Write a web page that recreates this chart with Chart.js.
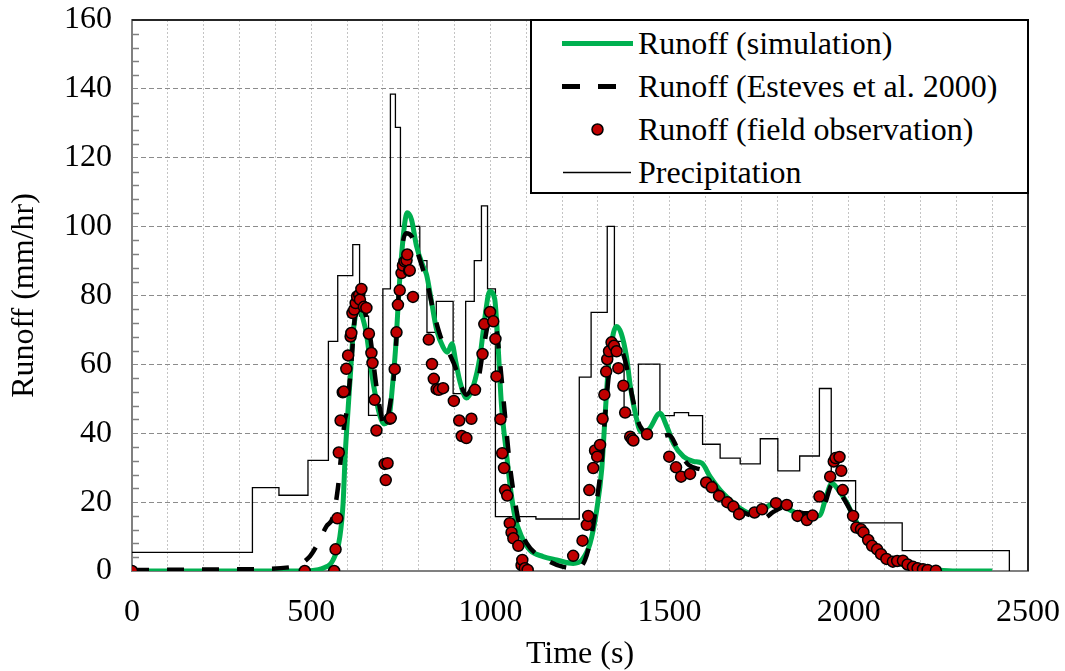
<!DOCTYPE html>
<html>
<head>
<meta charset="utf-8">
<script src="https://cdn.jsdelivr.net/npm/chart.js@4.4.1/dist/chart.umd.min.js"></script>
<style>
  html, body { margin: 0; padding: 0; background: #fff; }
  #wrap { position: relative; width: 1065px; height: 671px; }
  #legend {
    position: absolute; left: 530px; top: 19px; width: 499px; height: 175px;
    box-sizing: border-box; border: 2px solid #000; background: #fff;
    font-family: 'Liberation Serif', 'Times New Roman', serif; font-size: 32px; color: #000;
  }
  .row { position: absolute; left: 0; height: 43px; width: 100%; }
  .row svg { position: absolute; left: 0; top: 0; }
  .row span { position: absolute; left: 106px; top: 0; line-height: 43px; white-space: nowrap; }
</style>
</head>
<body>
<div id="wrap">
  <canvas id="c" width="1065" height="671"></canvas>
  <div id="legend"></div>
</div>
<script>
// ---------------- DATA ----------------
const xTickLabels = [0, 500, 1000, 1500, 2000, 2500];
const yTickLabels = [0, 20, 40, 60, 80, 100, 120, 140, 160];

// Precipitation (step function: value holds from this time until the next time)
const precipTime  = [0, 336, 410, 491, 548, 574, 616, 635, 660, 700, 721, 735, 749, 803, 823, 849, 896, 931, 955, 975, 992, 1014, 1127, 1248, 1281, 1326, 1346, 1373, 1413, 1473, 1513, 1553, 1592, 1641, 1697, 1753, 1802, 1863, 1918, 1951, 2019, 2149, 2448];
const precipValue = [5.4, 24.2, 22.0, 32.1, 66.7, 85.8, 94.8, 74.0, 45.2, 81.9, 138.5, 128.8, 100.1, 90.1, 69.3, 78.3, 51.5, 78.3, 90.1, 106.0, 81.9, 15.8, 15.1, 56.3, 75.1, 100.1, 66.7, 45.3, 60.1, 45.1, 46.0, 45.1, 36.8, 32.8, 31.1, 38.4, 29.1, 33.4, 53.0, 26.2, 14.0, 5.9, 0];

// Runoff (simulation)
const simTime   = [0, 480, 520, 533, 561, 580, 589, 595, 601, 610, 617, 626, 636, 645, 654, 663, 673, 692, 703, 719, 727, 735, 747, 761, 768, 780, 794, 812, 822, 836, 850, 868, 880, 893, 903, 915, 933, 952, 971, 985, 998, 1012, 1020, 1031, 1045, 1056, 1068, 1087, 1110, 1147, 1185, 1231, 1255, 1278, 1297, 1311, 1320, 1329, 1343, 1352, 1365, 1380, 1390, 1404, 1420, 1441, 1473, 1492, 1511, 1539, 1567, 1590, 1613, 1641, 1669, 1697, 1725, 1753, 1781, 1799, 1827, 1855, 1892, 1920, 1934, 1953, 1971, 1995, 2013, 2041, 2069, 2107, 2153, 2200, 2246, 2300, 2400];
const simRunoff = [0, 0, 0.4, 0.8, 3.2, 10, 19.7, 34, 44, 58, 69, 75, 76, 73, 69, 62, 54.6, 45, 42.7, 45.8, 54, 64, 84.6, 101, 104, 102, 94.3, 88.5, 86, 78, 70, 65, 63.5, 66, 61, 55, 50.2, 53.6, 62.3, 73.9, 81.2, 79, 68, 48, 34, 24, 16, 10, 6.1, 4.2, 3.2, 2.2, 3.2, 8, 18, 30, 45, 59, 69, 71, 69, 62, 54, 46, 40.5, 41, 45.8, 42, 37, 33.2, 31.8, 31.3, 27.4, 23.5, 20.6, 18.2, 16.8, 17.2, 19.2, 19.7, 18.2, 16.8, 15.8, 16.2, 20.6, 25.5, 23.5, 19.7, 15.8, 11, 7.1, 3.7, 1.7, 0.8, 0.3, 0, 0];

// Runoff (Esteves et al. 2000)
const estTime   = [0, 300, 449, 496, 514, 542, 561, 575, 584, 594, 598, 612, 621, 631, 645, 663, 682, 696, 705, 719, 733, 739, 749, 765, 780, 794, 812, 826, 840, 864, 887, 905, 919, 933, 952, 966, 980, 999, 1017, 1027, 1040, 1054, 1068, 1082, 1101, 1157, 1203, 1241, 1264, 1283, 1297, 1311, 1320, 1329, 1343, 1357, 1367, 1380, 1394, 1408, 1418, 1459, 1497, 1529, 1553, 1604, 1632, 1669, 1711, 1762, 1790, 1827, 1874, 1920, 1934, 1953, 1976, 2004, 2018, 2040, 2065, 2090, 2120, 2160, 2200, 2240];
const estRunoff = [0.3, 0.5, 1.2, 4.2, 7.1, 12.9, 15.8, 24.5, 34.2, 43.9, 45.8, 60.4, 73, 79.7, 76.8, 69.1, 53.6, 44.9, 42, 47.8, 59.4, 70, 89.4, 98.1, 97.2, 93.3, 87.5, 82.6, 75.9, 67.2, 62.8, 58.4, 53.6, 51.2, 53.6, 55.5, 64.2, 73, 70, 60.4, 46, 31, 20.6, 12.9, 8.1, 3.2, 1.2, 0.8, 3.2, 11, 20.6, 32.3, 44.9, 55.5, 65.2, 67.2, 64.2, 59.4, 51.7, 44.9, 42, 38.6, 39.5, 34.2, 30.8, 28.4, 23.5, 19.7, 16.8, 15.3, 17.2, 18.7, 16.8, 16.8, 19.7, 25, 22.6, 17.7, 14.8, 11, 7.5, 5, 3, 2, 1, 0.3];

// Runoff (field observation)
const obsTime   = [0, 482, 564, 568, 573, 577, 582, 588, 591, 598, 603, 610, 612, 615, 620, 624, 628, 634, 636, 640, 647, 654, 661, 668, 671, 677, 682, 705, 708, 713, 719, 722, 733, 738, 742, 747, 752, 756, 761, 766, 768, 773, 775, 784, 828, 837, 842, 850, 856, 868, 898, 913, 920, 933, 947, 957, 978, 983, 999, 1008, 1014, 1017, 1028, 1033, 1038, 1041, 1047, 1054, 1059, 1064, 1078, 1087, 1089, 1096, 1104, 1231, 1257, 1269, 1273, 1276, 1287, 1292, 1298, 1306, 1313, 1318, 1323, 1326, 1331, 1338, 1345, 1352, 1357, 1371, 1376, 1390, 1395, 1399, 1437, 1499, 1518, 1532, 1557, 1602, 1618, 1638, 1661, 1678, 1694, 1737, 1758, 1797, 1827, 1857, 1883, 1899, 1918, 1948, 1958, 1963, 1974, 1979, 1983, 2012, 2021, 2034, 2041, 2054, 2065, 2079, 2090, 2105, 2123, 2135, 2151, 2164, 2179, 2192, 2207, 2220, 2243];
const obsRunoff = [0, 0, 0, 6.3, 15.3, 34.4, 43.7, 51.9, 52.1, 58.7, 62.6, 68.1, 69.1, 74.9, 75.9, 77.8, 79.7, 80.2, 78.8, 81.9, 76.7, 76.4, 68.9, 63.3, 60.4, 49.7, 40.8, 31.1, 26.4, 31.3, 44.2, 44.4, 58.6, 69.3, 77.3, 81.5, 86.5, 88.7, 89.9, 90.2, 91.9, 87.2, 87.3, 79.6, 67.2, 60.1, 55.8, 52.8, 52.6, 53.1, 49.4, 43.7, 39.2, 38.6, 44.2, 52.6, 63, 71.7, 75.2, 72.5, 67.4, 56.5, 44.1, 34.2, 29.9, 23.5, 21.9, 13.9, 11.2, 9.5, 7.3, 1.7, 3.2, 0.8, 0.3, 4.4, 8.8, 13.4, 16, 23.5, 29.9, 35, 33.2, 36.6, 44.2, 51.2, 57.9, 61.5, 63.8, 66.4, 65.4, 63.8, 58.9, 53.8, 46, 39, 38.3, 37.9, 39.7, 33.2, 30.1, 27.4, 28.2, 25.7, 24.3, 21.8, 20, 18.7, 16.5, 17, 17.9, 19.7, 19.2, 16, 14.8, 16.1, 21.6, 27.4, 31.8, 32.8, 33.1, 29.1, 23.5, 16, 12.6, 12.1, 11.2, 9, 7.3, 6.3, 4.9, 3.5, 2.7, 2.9, 3, 1.9, 1.2, 0.8, 0.5, 0.3, 0.1];

const seriesLabels = ['Runoff (simulation)', 'Runoff (Esteves et al. 2000)', 'Runoff (field observation)', 'Precipitation'];

// ---------------- HELPERS ----------------
const pts = (xs, ys) => xs.map((x, i) => ({ x: x, y: ys[i] }));
const FONT = "'Liberation Serif', 'Times New Roman', serif";
const GREEN = '#00B050', RED = '#C00000';

const legendPlugin = {
  id: 'htmlLegend',
  afterUpdate(chart) {
    const box = document.getElementById('legend');
    box.innerHTML = '';
    chart.data.datasets.forEach((ds, i) => {
      const row = document.createElement('div');
      row.className = 'row';
      row.style.top = (1 + i * 43) + 'px';
      let sample = '';
      if (ds.legendKind === 'sim') sample = `<line x1="30" y1="21.5" x2="101" y2="21.5" stroke="${GREEN}" stroke-width="5"/>`;
      if (ds.legendKind === 'est') sample = `<line x1="30" y1="21.5" x2="84" y2="21.5" stroke="#000" stroke-width="5" stroke-dasharray="18 18"/>`;
      if (ds.legendKind === 'obs') sample = `<circle cx="65.5" cy="21.5" r="5.5" fill="${RED}" stroke="#000" stroke-width="1.5"/>`;
      if (ds.legendKind === 'pre') sample = `<line x1="31" y1="21.5" x2="99" y2="21.5" stroke="#000" stroke-width="1.3"/>`;
      row.innerHTML = `<svg width="104" height="43">${sample}</svg><span>${ds.label}</span>`;
      box.appendChild(row);
    });
  }
};

const framePlugin = {
  id: 'frame',
  beforeDatasetsDraw(chart) {
    const { ctx, chartArea: a, scales } = chart;
    ctx.save();
    ctx.strokeStyle = '#808080';
    ctx.lineWidth = 1.5;
    for (let v = 4; v < 160; v += 4) {
      if (v % 20 === 0) continue;
      const y = Math.round(scales.y.getPixelForValue(v)) + 0.5;
      ctx.beginPath();
      ctx.moveTo(a.left, y);
      ctx.lineTo(a.left + 7, y);
      ctx.stroke();
    }
    ctx.strokeStyle = '#262626';
    ctx.lineWidth = 2;
    ctx.beginPath();
    ctx.moveTo(a.left, a.top);
    ctx.lineTo(a.right, a.top);
    ctx.lineTo(a.right, a.bottom);
    ctx.stroke();
    ctx.restore();
  }
};

new Chart(document.getElementById('c'), {
  type: 'line',
  data: {
    datasets: [
      {
        label: seriesLabels[0], legendKind: 'sim', order: 2,
        data: pts(simTime, simRunoff),
        borderColor: GREEN, borderWidth: 5, pointRadius: 0,
        cubicInterpolationMode: 'monotone', fill: false
      },
      {
        label: seriesLabels[1], legendKind: 'est', order: 1,
        data: pts(estTime, estRunoff),
        borderColor: '#000', borderWidth: 4.5, borderDash: [17, 18], pointRadius: 0,
        cubicInterpolationMode: 'monotone', fill: false
      },
      {
        label: seriesLabels[2], legendKind: 'obs', order: 0,
        data: pts(obsTime, obsRunoff),
        showLine: false, pointRadius: 5.5, pointBorderWidth: 1.5,
        pointBackgroundColor: RED, pointBorderColor: '#000', borderColor: '#000'
      },
      {
        label: seriesLabels[3], legendKind: 'pre', order: 3,
        data: pts(precipTime, precipValue),
        stepped: 'before', borderColor: '#000', borderWidth: 1.3, pointRadius: 0, fill: false
      }
    ]
  },
  options: {
    responsive: false,
    animation: false,
    devicePixelRatio: 1,
    layout: { padding: { top: 20, right: 37, bottom: 0, left: 0 } },
    plugins: { legend: { display: false }, tooltip: { enabled: false } },
    scales: {
      x: {
        type: 'linear', min: 0, max: 2500,
        afterFit: (s) => { s.height = 100; s.paddingLeft = 0; s.paddingRight = 0; },
        ticks: {
          stepSize: 100, autoSkip: false, maxRotation: 0, padding: 22,
          color: '#000', font: { family: FONT, size: 32 },
          callback: (v) => xTickLabels.includes(v) ? String(v) : ''
        },
        grid: { color: '#c4c4c4', lineWidth: 1, drawTicks: false },
        border: { color: '#808080', width: 2, dash: [2, 2] },
        title: { display: true, text: 'Time (s)', color: '#000', font: { family: FONT, size: 32, lineHeight: 1 }, padding: { top: 0, bottom: 0 } }
      },
      y: {
        min: 0, max: 160,
        afterFit: (s) => { s.width = 132; s.paddingTop = 0; s.paddingBottom = 0; },
        ticks: {
          stepSize: 20, padding: 20, color: '#000', font: { family: FONT, size: 32 },
          callback: (v) => yTickLabels.includes(v) ? String(v) : ''
        },
        grid: { color: '#8c8c8c', lineWidth: 1, drawTicks: false },
        border: { color: '#808080', width: 2, dash: [5, 3] },
        title: { display: true, text: 'Runoff (mm/hr)', color: '#000', font: { family: FONT, size: 32, lineHeight: 1 }, padding: { top: 9, bottom: 0 } }
      }
    }
  },
  plugins: [legendPlugin, framePlugin]
});
</script>
</body>
</html>
